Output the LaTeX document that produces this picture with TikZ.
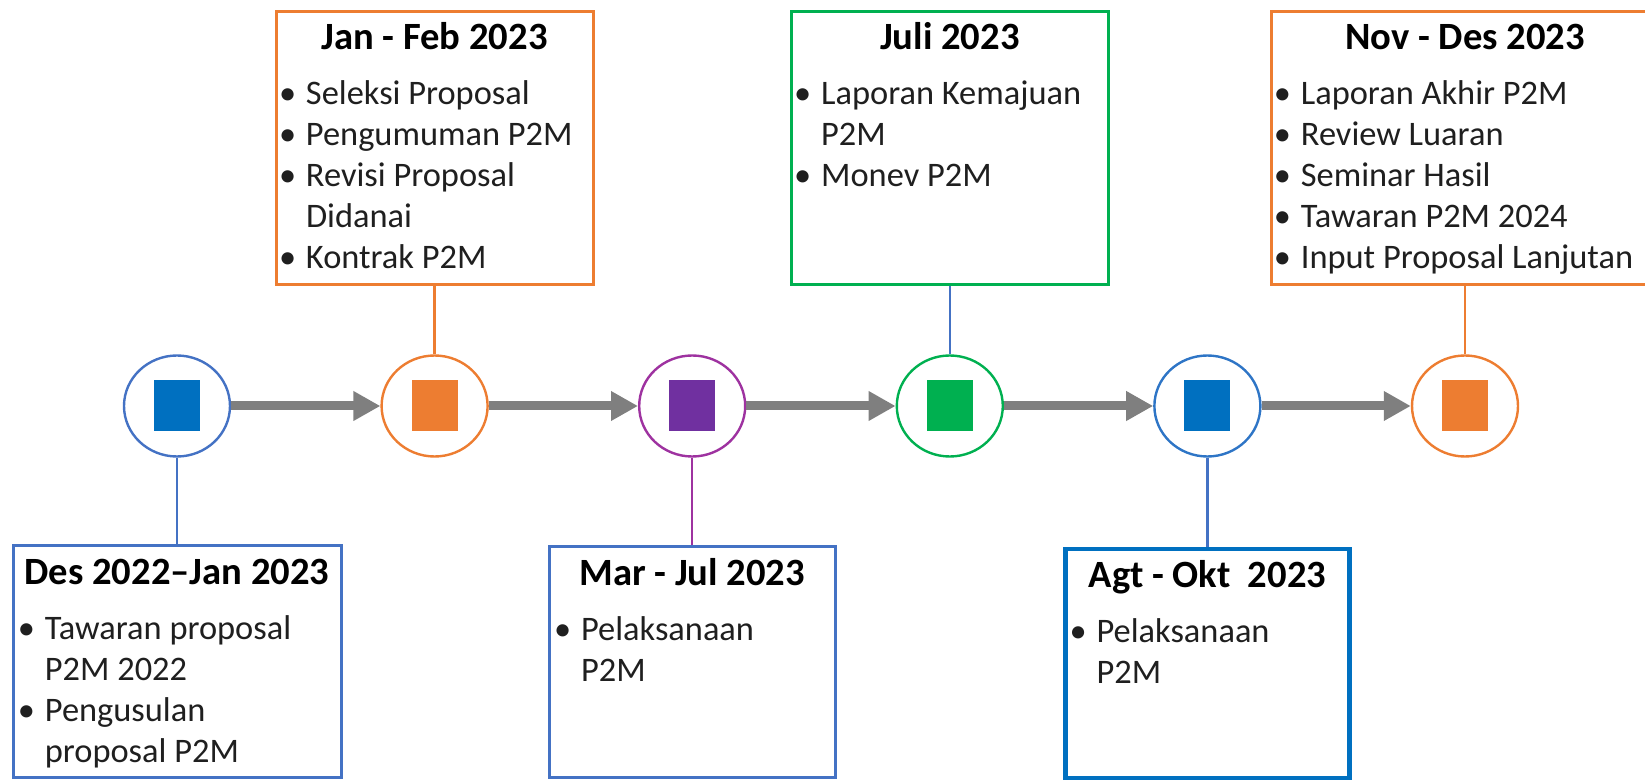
\documentclass[tikz,border=0pt]{standalone}
\usepackage{fontspec}
\setmainfont{Carlito}
\usetikzlibrary{positioning,arrows.meta,shapes.geometric}

\definecolor{evorange}{HTML}{ED7D31}
\definecolor{evblue}{HTML}{4472C4}
\definecolor{evdeep}{HTML}{0070C0}
\definecolor{evring}{HTML}{2E75C6}
\definecolor{evgreen}{HTML}{00B050}
\definecolor{evpurple}{HTML}{7030A0}
\definecolor{evmagenta}{HTML}{9E32A0}
\definecolor{evgray}{HTML}{7F7F7F}

\newcommand{\bi}{\makebox[13.5pt][l]{\textbullet}}
\newcommand{\bc}{\hspace*{13.5pt}}
\newcommand{\evitems}[1]{\begin{tabular}[t]{@{}l@{}}#1\end{tabular}}

\tikzset{
  hub/.style 2 args={ellipse, draw=#1, fill=white, line width=1.2pt,
    minimum width=53pt, minimum height=50.5pt, inner sep=0pt,
    path picture={\fill[#2] ([xshift=-11.5pt,yshift=-12.75pt]path picture bounding box.center) rectangle ++(23pt,25.5pt);}},
  evbox/.style={draw=#1, line width=1.5pt, fill=white, inner sep=0pt},
  head/.style={inner sep=0pt, font=\fontsize{19.3}{23}\selectfont\bfseries},
  items/.style={inner sep=0pt, font=\fontsize{17.2}{20.5}\selectfont, text=black!88},
  stem/.style={draw=#1, line width=1.2pt},
  flow/.style={draw=evgray, line width=4.5pt, -{Triangle[length=13.5pt,width=14pt]}},
}

\begin{document}
\begin{tikzpicture}[x=0.5pt, y=-0.5pt, node distance=74.6pt]
  \useasboundingbox (0,0) rectangle (1645,780);

  % timeline
  \node[hub={evblue}{evdeep}] (h1) at (177,406) {};
  \node[hub={evorange}{evorange}, right=of h1] (h2) {};
  \node[hub={evmagenta}{evpurple}, right=of h2] (h3) {};
  \node[hub={evgreen}{evgreen}, right=of h3] (h4) {};
  \node[hub={evring}{evdeep}, right=of h4] (h5) {};
  \node[hub={evorange}{evorange}, right=of h5] (h6) {};
  \foreach \a/\b in {h1/h2,h2/h3,h3/h4,h4/h5,h5/h6}
    \draw[flow] (\a) -- (\b);

  % boxes
  \node[evbox=evblue, minimum width=164pt, minimum height=115.5pt, below=43.4pt of h1] (b1) {};
  \node[evbox=evorange, minimum width=158.5pt, minimum height=136.5pt, above=34pt of h2] (b2) {};
  \node[evbox=evblue, minimum width=143pt, minimum height=115.5pt, below=43.8pt of h3] (b3) {};
  \node[evbox=evgreen, minimum width=158.5pt, minimum height=136.5pt, above=34pt of h4] (b4) {};
  \node[evbox=evdeep, line width=2.2pt, minimum width=142pt, minimum height=114.5pt, below=44.5pt of h5] (b5) {};
  \node[evbox=evorange, minimum width=194pt, minimum height=136.5pt, above=34pt of h6] (b6) {};

  \draw[stem=evblue] (h1) -- (b1);
  \draw[stem=evorange] (h2) -- (b2);
  \draw[stem=evmagenta] (h3) -- (b3);
  \draw[stem=evblue] (h4) -- (b4);
  \draw[stem=evblue] (h5) -- (b5);
  \draw[stem=evorange] (h6) -- (b6);

  % titles
  \node[head, anchor=base] (t1) at ([yshift=-20.2pt]b1.north) {Des 2022–Jan 2023};
  \node[head, anchor=base] (t2) at ([yshift=-19.8pt]b2.north) {Jan - Feb 2023};
  \node[head, anchor=base] (t3) at ([yshift=-20.2pt]b3.north) {Mar - Jul 2023};
  \node[head, anchor=base] (t4) at ([yshift=-19.8pt]b4.north) {Juli 2023};
  \node[head, anchor=base] (t5) at ([yshift=-20.2pt]b5.north) {Agt - Okt\ \ 2023};
  \node[head, anchor=base] (t6) at ([yshift=-19.8pt]b6.north) {Nov - Des 2023};

  % lists
  \node[items, anchor=base west] (l1) at ([xshift=3pt,yshift=-47.4pt]b1.north west)
    {\evitems{\bi Tawaran proposal\\ \bc P2M 2022\\ \bi Pengusulan\\ \bc proposal P2M}};
  \node[items, anchor=base west] (l2) at ([xshift=2pt,yshift=-47.2pt]b2.north west)
    {\evitems{\bi Seleksi Proposal\\ \bi Pengumuman P2M\\ \bi Revisi Proposal\\ \bc Didanai\\ \bi Kontrak P2M}};
  \node[items, anchor=base west] (l3) at ([xshift=3pt,yshift=-47.4pt]b3.north west)
    {\evitems{\bi Pelaksanaan\\ \bc P2M}};
  \node[items, anchor=base west] (l4) at ([xshift=2pt,yshift=-47.2pt]b4.north west)
    {\evitems{\bi Laporan Kemajuan\\ \bc P2M\\ \bi Monev P2M}};
  \node[items, anchor=base west] (l5) at ([xshift=3pt,yshift=-47.8pt]b5.north west)
    {\evitems{\bi Pelaksanaan\\ \bc P2M}};
  \node[items, anchor=base west] (l6) at ([xshift=2pt,yshift=-47.2pt]b6.north west)
    {\evitems{\bi Laporan Akhir P2M\\ \bi Review Luaran\\ \bi Seminar Hasil\\ \bi Tawaran P2M 2024\\ \bi Input Proposal Lanjutan}};
\end{tikzpicture}
\end{document}
